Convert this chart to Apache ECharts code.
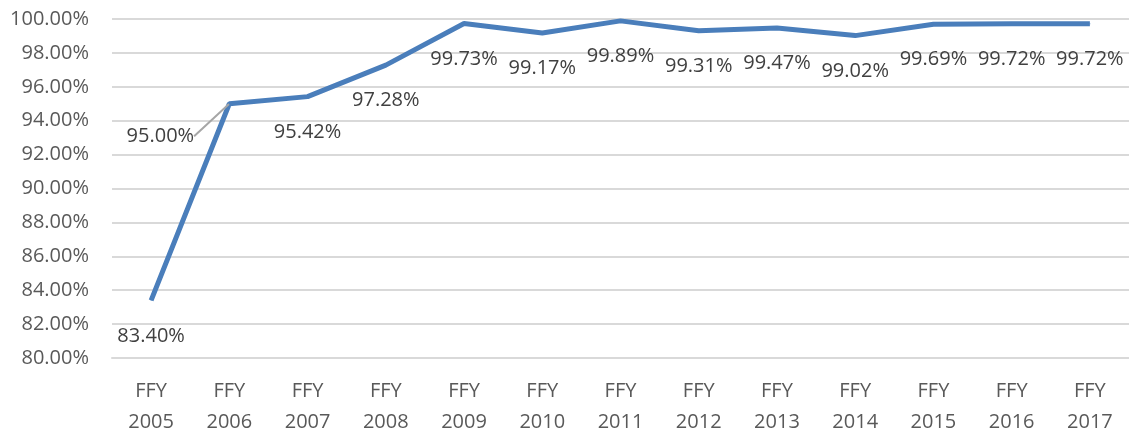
<!DOCTYPE html>
<html>
<head>
<meta charset="utf-8">
<script src="https://cdn.jsdelivr.net/npm/echarts@6/dist/echarts.min.js"></script>
<style>
  html, body { margin: 0; padding: 0; background: #fff; }
  #chart { width: 1129px; height: 433px; }
</style>
</head>
<body>
<div id="chart"></div>
<script>
// categories and values
var years = ['2005', '2006', '2007', '2008', '2009', '2010', '2011', '2012', '2013', '2014', '2015', '2016', '2017'];
var rates = [83.40, 95.00, 95.42, 97.28, 99.73, 99.17, 99.89, 99.31, 99.47, 99.02, 99.69, 99.72, 99.72];
var yMin = 80, yMax = 100, yStep = 2;

var categories = years.map(function (y) { return 'FFY\n' + y; });

// only the 2006 label gets a leader line
var seriesData = rates.map(function (v, i) {
    if (i === 1) {
        return { value: v, labelLine: { show: true } };
    }
    return v;
});

var chart = echarts.init(document.getElementById('chart'));

var option = {
    animation: false,
    grid: { left: 112, right: 0, top: 19, bottom: 75, outerBoundsMode: 'none', containLabel: false },
    xAxis: {
        type: 'category',
        data: categories,
        boundaryGap: true,
        axisLine: { show: true, lineStyle: { color: '#D9D9D9', width: 2 } },
        axisTick: { show: false },
        axisLabel: {
            color: '#595959',
            fontFamily: 'Open Sans',
            fontSize: 20,
            lineHeight: 31,
            margin: 18,
            interval: 0
        }
    },
    yAxis: {
        type: 'value',
        min: yMin,
        max: yMax,
        interval: yStep,
        axisLine: { show: false },
        axisTick: { show: false },
        splitLine: { lineStyle: { color: '#D9D9D9', width: 2 } },
        axisLabel: {
            color: '#595959',
            fontFamily: 'Open Sans',
            fontSize: 20,
            margin: 23,
            formatter: function (v) { return v.toFixed(2) + '%'; }
        }
    },
    series: [{
        type: 'line',
        data: seriesData,
        symbol: 'circle',
        symbolSize: 1,
        itemStyle: { color: '#4A7EBB' },
        lineStyle: { color: '#4A7EBB', width: 5 },
        label: {
            show: true,
            position: 'bottom',
            distance: 25,
            color: '#404040',
            fontFamily: 'Open Sans',
            fontSize: 20,
            formatter: function (p) { return p.value.toFixed(2) + '%'; }
        },
        labelLine: {
            show: false,
            lineStyle: { color: '#A6A6A6', width: 2 }
        },
        // the 2006 label sits off to the left
        labelLayout: function (p) {
            if (p.dataIndex === 1) {
                return { dx: -69, dy: -3 };
            }
        }
    }]
};

chart.setOption(option);
</script>
</body>
</html>
